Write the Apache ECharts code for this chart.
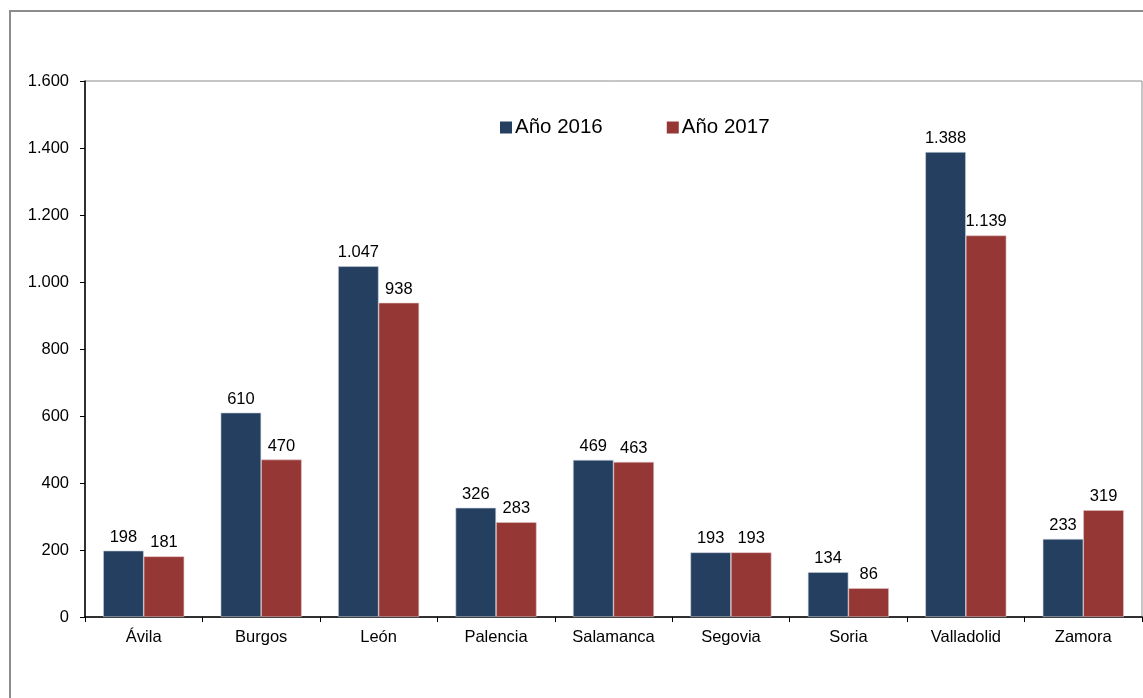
<!DOCTYPE html>
<html><head><meta charset="utf-8">
<script src="https://cdn.jsdelivr.net/npm/echarts@6/dist/echarts.min.js"></script>
<style>html,body{margin:0;padding:0;background:#fff}#c{width:1143px;height:698px}</style>
</head><body><div id="c"></div>
<script>
const categories = ['Ávila','Burgos','León','Palencia','Salamanca','Segovia','Soria','Valladolid','Zamora'];
const values2016 = [198, 610, 1047, 326, 469, 193, 134, 1388, 233];
const values2017 = [181, 470, 938, 283, 463, 193, 86, 1139, 319];
const seriesNames = ['Año 2016','Año 2017'];
const yTicks = [0,200,400,600,800,1000,1200,1400,1600];

function fmt(v){ return String(v).replace(/\B(?=(\d{3})+(?!\d))/g,'.'); }

const chart = echarts.init(document.getElementById('c'));
const font = '"Liberation Sans", Arial, sans-serif';
const labelCfg = {show:true, position:'top', distance:5, fontSize:16.5, color:'#000', fontFamily:font, formatter:p=>fmt(p.value)};
chart.setOption({
  animation:false,
  textStyle:{fontFamily:font},
  graphic:[{type:'rect', shape:{x:10,y:11,width:1140,height:700}, style:{fill:'none', stroke:'#8c8c8c', lineWidth:2}, z:-1}],
  grid:{left:85, right:1, top:81, bottom:81, show:true, borderColor:'#8c8c8c', borderWidth:1},
  legend:{left:495, top:112, itemWidth:12, itemHeight:12, itemGap:64, icon:'rect',
    itemStyle:{borderWidth:0},
    textStyle:{fontSize:20.5, color:'#000', fontFamily:font, padding:[0,0,0,-2]}, data:seriesNames},
  xAxis:{type:'category', data:categories,
    axisLine:{lineStyle:{color:'#000', width:1.5}},
    axisTick:{show:true, alignWithLabel:false, length:5, lineStyle:{color:'#000'}},
    axisLabel:{fontSize:16.5, color:'#000', margin:12, fontFamily:font}},
  yAxis:{type:'value', min:yTicks[0], max:yTicks[yTicks.length-1], interval:200,
    axisLine:{show:true, lineStyle:{color:'#000', width:1.5}},
    axisTick:{show:true, length:5, lineStyle:{color:'#000'}},
    splitLine:{show:false},
    axisLabel:{fontSize:16.5, color:'#000', margin:16, fontFamily:font, formatter:v=>fmt(v)}},
  series:[
    {name:seriesNames[0], type:'bar', data:values2016, barWidth:'34.5%', barGap:'0%',
      itemStyle:{color:'#253f60', borderColor:'#c9d1dc', borderWidth:0.6}, label:labelCfg},
    {name:seriesNames[1], type:'bar', data:values2017, barWidth:'34.5%',
      itemStyle:{color:'#953735', borderColor:'#e0c4c3', borderWidth:0.6}, label:labelCfg}
  ]
});
</script></body></html>
